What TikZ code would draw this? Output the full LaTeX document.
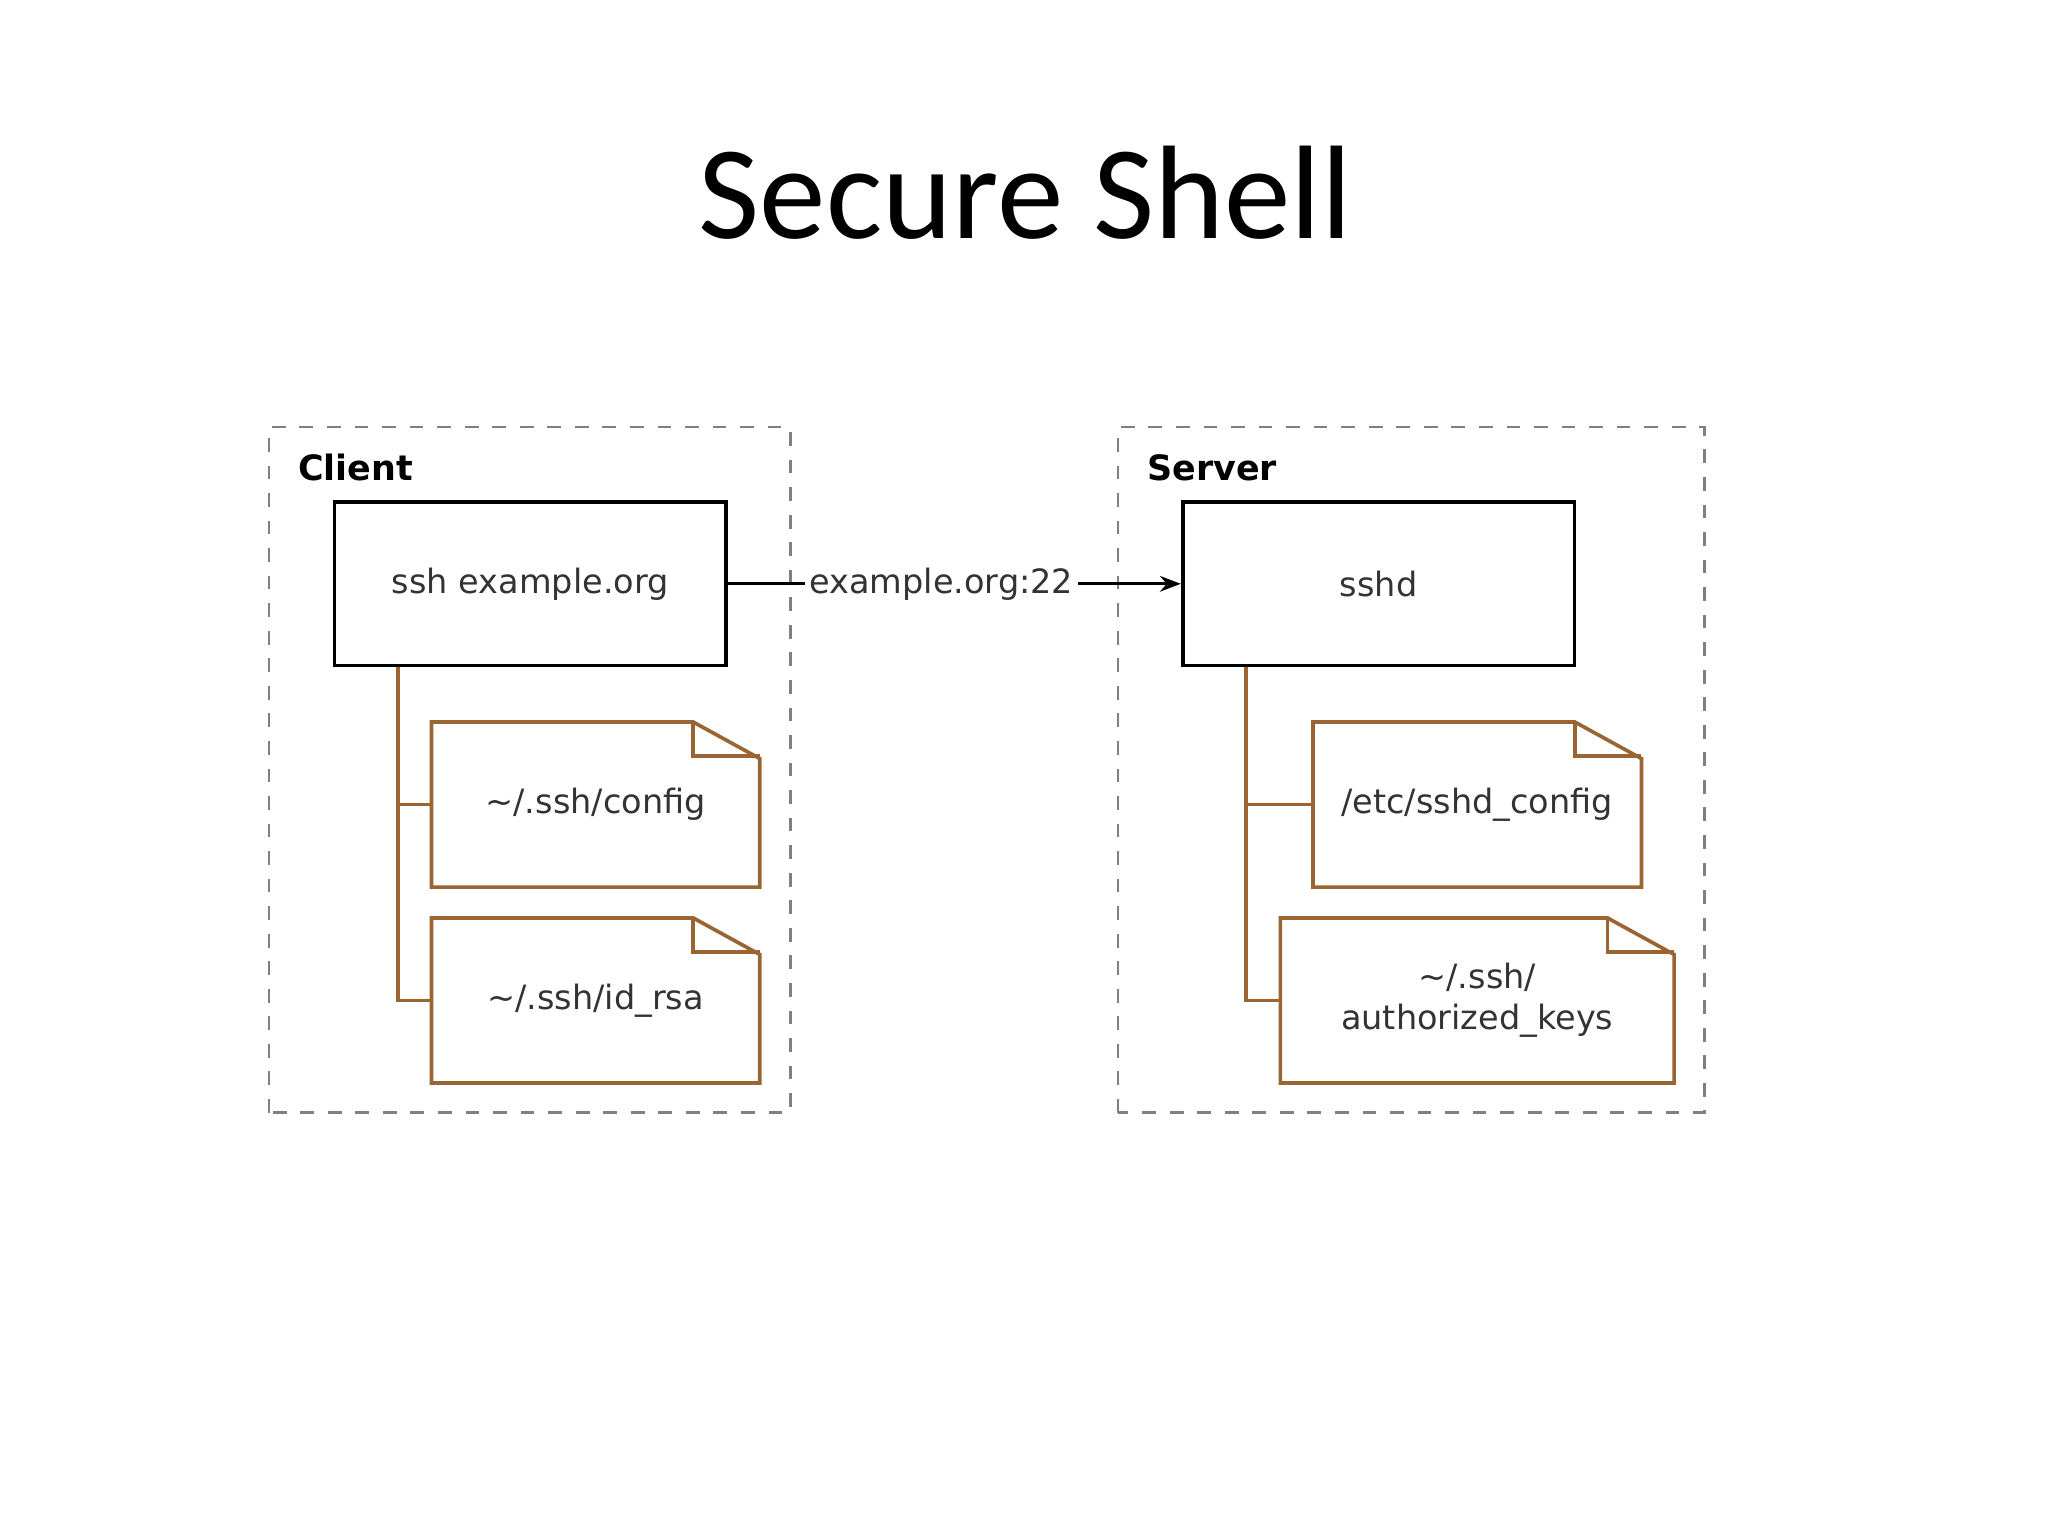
\documentclass[tikz,border=0pt]{standalone}
\usepackage{fontspec}
\setmainfont{DejaVu Sans}
\newfontfamily\titlefont{Carlito}
\usepackage{tikz}
\usetikzlibrary{positioning,arrows.meta}

\tikzset{
  box/.style={draw, line width=0.8pt, minimum width=3cm, minimum height=1.25cm, font=\fontsize{7.3}{9}\selectfont, text=black!80},
  file/.style={minimum width=2.5cm, minimum height=1.25cm, align=center, font=\fontsize{7.3}{9}\selectfont, text=black!80},
  fileline/.style={draw=brown!80!black, line width=0.8pt},
  group/.style={draw=gray, dashed, line width=0.6pt},
}

\begin{document}
\begin{tikzpicture}
\useasboundingbox (0,0) rectangle (15.68,11.76);

% Title
\node[font=\titlefont\fontsize{29}{34}\selectfont] (title) at (7.85,10.28) {Secure Shell};

% Dashed groups
\draw[group] (2.06,3.24) rectangle (6.05,8.49);
\draw[group] (8.56,3.24) rectangle (13.05,8.49);
\node[anchor=west, font=\bfseries\fontsize{7.6}{9}\selectfont] (client) at (2.16,8.18) {Client};
\node[anchor=west, font=\bfseries\fontsize{7.6}{9}\selectfont] (server) at (8.66,8.18) {Server};

% Processes
\node[box] (ssh) at (4.06,7.29) {ssh example.org};
\node[box] (sshd) at (10.555,7.29) {sshd};

% Files
\node[file] (cfg) at (4.56,5.60) {\textasciitilde/.ssh/config};
\node[file] (key) at (4.56,4.10) {\textasciitilde/.ssh/id\_rsa};
\node[file] (scfg) at (11.31,5.60) {/etc/sshd\_config};
\node[file, minimum width=3cm] (auth) at (11.31,4.10) {\textasciitilde/.ssh/\\authorized\_keys};

\foreach \f in {cfg,key,scfg,auth}{
  \draw[fileline] ([xshift=-0.51cm]\f.north east) -- (\f.north west) -- (\f.south west)
    -- (\f.south east) -- ([yshift=-0.28cm]\f.north east) -- cycle;
  \draw[fileline] ([xshift=-0.51cm]\f.north east) -- ++(0,-0.26) -- ([yshift=-0.26cm]\f.north east);
}

% Tree lines
\coordinate (ct) at ([xshift=0.5cm]ssh.south west);
\coordinate (st) at ([xshift=0.5cm]sshd.south west);
\draw[fileline] (ct) |- (key.west);
\draw[fileline] (ct |- cfg.west) -- (cfg.west);
\draw[fileline] (st) |- (auth.west);
\draw[fileline] (st |- scfg.west) -- (scfg.west);

% Connection
\draw[line width=0.6pt, -{Stealth[length=1.6mm]}] (ssh.east) -- node[fill=white, inner sep=1pt, font=\fontsize{7.3}{9}\selectfont, text=black!80, xshift=-0.1cm] {example.org:22} (sshd.west);
\end{tikzpicture}
\end{document}
